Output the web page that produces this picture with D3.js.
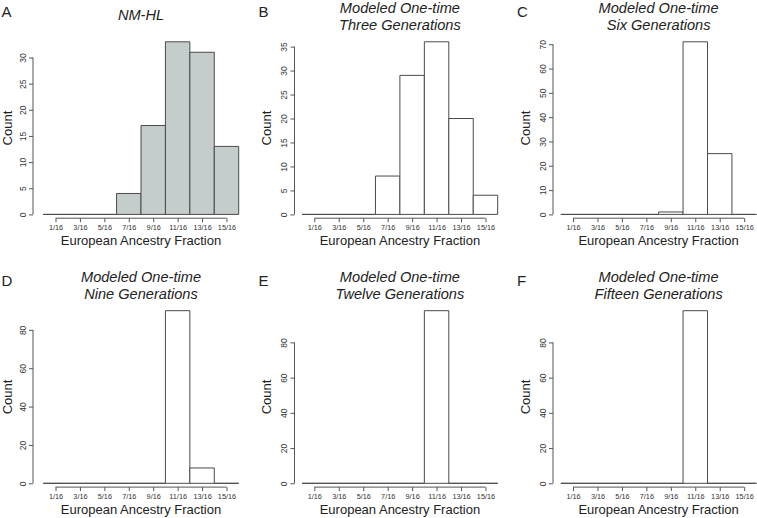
<!DOCTYPE html>
<html>
<head>
<meta charset="utf-8">
<script src="https://cdn.jsdelivr.net/npm/d3@7/dist/d3.min.js"></script>
<style>
  html, body { margin: 0; padding: 0; background: #fff; }
  svg { display: block; font-family: "Liberation Sans", Arial, Helvetica, sans-serif; }
</style>
</head>
<body>
<svg id="chart" width="757" height="518"></svg>
<script>
// ---- data ----
const categories = ["1/16", "3/16", "5/16", "7/16", "9/16", "11/16", "13/16", "15/16"];
const panelLetters = ["A", "B", "C", "D", "E", "F"];
const panelTitles = [
  ["NM-HL"],
  ["Modeled One-time", "Three Generations"],
  ["Modeled One-time", "Six Generations"],
  ["Modeled One-time", "Nine Generations"],
  ["Modeled One-time", "Twelve Generations"],
  ["Modeled One-time", "Fifteen Generations"]
];
const countsA = [0, 0, 0, 4, 17, 33, 31, 13];
const countsB = [0, 0, 0, 8, 29, 36, 20, 4];
const countsC = [0, 0, 0, 0, 1, 71, 25, 0];
const countsD = [0, 0, 0, 0, 0, 90, 8, 0];
const countsE = [0, 0, 0, 0, 0, 98, 0, 0];
const countsF = [0, 0, 0, 0, 0, 98, 0, 0];
const yTicksA = [0, 5, 10, 15, 20, 25, 30];
const yTicksB = [0, 5, 10, 15, 20, 25, 30, 35];
const yTicksC = [0, 10, 20, 30, 40, 50, 60, 70];
const yTicksD = [0, 20, 40, 60, 80];
const yTicksE = [0, 20, 40, 60, 80];
const yTicksF = [0, 20, 40, 60, 80];
const xLabel = "European Ancestry Fraction";
const yLabel = "Count";

const allCounts = [countsA, countsB, countsC, countsD, countsE, countsF];
const allYTicks = [yTicksA, yTicksB, yTicksC, yTicksD, yTicksE, yTicksF];

// ---- layout ----
const cols = [
  { axisX: 33, x0: 43.3, x1: 238.7, countX: 11.5, letterX: 1.5 },
  { axisX: 294.5, x0: 302.1, x1: 497.7, countX: 270.5, letterX: 258.5 },
  { axisX: 553, x0: 560.8, x1: 756.4, countX: 530, letterX: 517 }
];
const rows = [
  { y0: 214.4, yTop: 41.8, off: 0 },
  { y0: 483.3, yTop: 310.7, off: 269 }
];

const svg = d3.select("#chart");

allCounts.forEach((counts, p) => {
  const c = cols[p % 3];
  const r = rows[Math.floor(p / 3)];
  const fill = p === 0 ? "#c4cdcc" : "#ffffff";
  const stroke = "#4a4a4a";
  const maxC = d3.max(counts);

  const x = d3.scaleLinear().domain([0, 1]).range([c.x0, c.x1]);
  const y = d3.scaleLinear().domain([0, maxC]).range([r.y0, r.yTop]);

  const g = svg.append("g");

  // bars (histogram bins of width 2/16)
  const bins = counts.map((v, i) => ({ lo: (2 * i) / 16, hi: (2 * i + 2) / 16, v }));
  g.selectAll("path.bar").data(bins).join("path")
    .attr("class", "bar")
    .attr("d", d => {
      const xa = x(d.lo), xb = x(d.hi), ya = y(0), yb = y(d.v);
      return `M${xa},${ya}V${yb}H${xb}V${ya}Z`;
    })
    .attr("fill", fill)
    .attr("stroke", stroke)
    .attr("stroke-width", 1);

  // x axis
  const tickPos = categories.map((_, i) => (2 * i + 1) / 16);
  const xAxisY = r.y0 + 3.8;
  const xg = g.append("g").attr("transform", `translate(0,${xAxisY})`)
    .call(d3.axisBottom(x).tickValues(tickPos).tickFormat((d, i) => categories[i]).tickSize(4).tickSizeOuter(0));
  xg.select(".domain").remove();
  xg.append("line")
    .attr("x1", x(tickPos[0])).attr("x2", x(tickPos[tickPos.length - 1]))
    .attr("stroke", "#555");
  xg.selectAll(".tick line").attr("stroke", "#555");
  xg.selectAll(".tick text")
    .attr("y", 7).attr("dy", "0.72em")
    .attr("font-size", 7.3).attr("fill", "#333")
    .attr("font-family", "Liberation Sans, Arial, sans-serif");

  // y axis
  const yt = allYTicks[p];
  const yg = g.append("g").attr("transform", `translate(${c.axisX},0)`)
    .call(d3.axisLeft(y).tickValues(yt).tickSize(4).tickSizeOuter(0));
  yg.select(".domain").remove();
  yg.append("line")
    .attr("y1", y(yt[0])).attr("y2", y(yt[yt.length - 1]))
    .attr("stroke", "#555");
  yg.selectAll(".tick line").attr("stroke", "#555");
  yg.selectAll(".tick text")
    .attr("x", null).attr("dy", null)
    .attr("transform", "translate(-7.5,0) rotate(-90)")
    .attr("text-anchor", "middle")
    .attr("font-size", 8.5).attr("fill", "#333")
    .attr("font-family", "Liberation Sans, Arial, sans-serif");

  const midX = (c.x0 + c.x1) / 2;

  // x label
  g.append("text")
    .attr("x", midX).attr("y", r.y0 + 30.7)
    .attr("text-anchor", "middle")
    .attr("font-size", 13).attr("fill", "#222")
    .text(xLabel);

  // y label
  g.append("text")
    .attr("transform", `translate(${c.countX},${(r.y0 + r.yTop) / 2}) rotate(-90)`)
    .attr("text-anchor", "middle")
    .attr("font-size", 13).attr("fill", "#222")
    .text(yLabel);

  // title
  const t = panelTitles[p];
  const baselines = t.length === 1 ? [20] : [13.4, 29.8];
  t.forEach((line, k) => {
    g.append("text")
      .attr("x", midX).attr("y", baselines[k] + r.off)
      .attr("text-anchor", "middle")
      .attr("font-size", 14.6).attr("font-style", "italic").attr("fill", "#222")
      .text(line);
  });

  // panel letter
  g.append("text")
    .attr("x", c.letterX).attr("y", 16.8 + r.off)
    .attr("font-size", 15).attr("fill", "#222")
    .text(panelLetters[p]);
});
</script>
</body>
</html>
